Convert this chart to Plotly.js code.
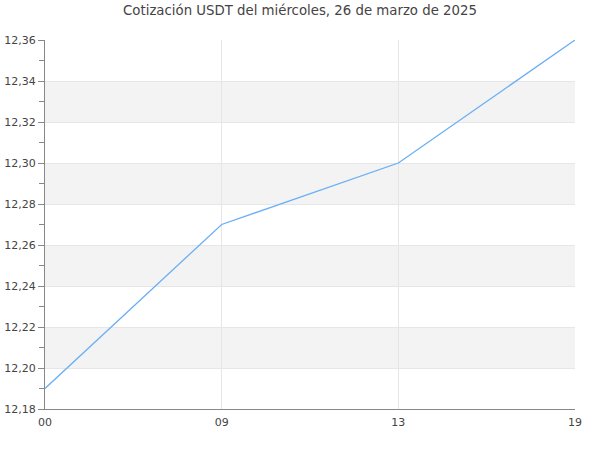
<!DOCTYPE html>
<html><head><meta charset="utf-8">
<script src="https://cdn.plot.ly/plotly-3.0.1.min.js"></script>
<style>html,body{margin:0;padding:0;background:#fff}#c{width:600px;height:450px}</style>
</head><body><div id="c"></div>
<script>
const hours = ["00", "09", "13", "19"];
const prices = [12.19, 12.27, 12.30, 12.36];
const yTicks = [12.18, 12.20, 12.22, 12.24, 12.26, 12.28, 12.30, 12.32, 12.34, 12.36];
const titleText = "Cotización USDT del miércoles, 26 de marzo de 2025";

const bands = [];
for (let i = 1; i + 1 < yTicks.length; i += 2) {
  bands.push({type:'rect', xref:'paper', yref:'y', x0:0, x1:1, y0:yTicks[i], y1:yTicks[i+1],
    fillcolor:'#f3f3f3', line:{width:0}, layer:'below'});
}

Plotly.newPlot('c', [{
  x: hours, y: prices, type:'scatter', mode:'lines',
  line:{color:'#6aaff5', width:1.3}, hoverinfo:'none'
}], {
  width:600, height:450,
  separators: ',.',
  font:{family:'DejaVu Sans, sans-serif', size:11, color:'#444'},
  title:{text:titleText, x:0.5, xanchor:'center', y:0.976, yanchor:'middle', font:{size:13.3, color:'#444'}},
  margin:{l:45, r:25, t:40, b:41},
  paper_bgcolor:'#fff', plot_bgcolor:'#fff',
  showlegend:false,
  shapes: bands,
  xaxis:{type:'category', range:[0, hours.length-1], showgrid:true, gridcolor:'#e6e6e6', gridwidth:1,
    showline:true, linecolor:'#888', linewidth:1, ticks:'', zeroline:false, ticklabelstandoff:3,
    tickfont:{size:11, color:'#444'}, fixedrange:true},
  yaxis:{range:[yTicks[0], yTicks[yTicks.length-1]], tickvals:yTicks, tickformat:'.2f',
    showgrid:true, gridcolor:'#e6e6e6', gridwidth:1, showline:true, linecolor:'#888', linewidth:1,
    ticks:'outside', ticklen:6, tickcolor:'#888', zeroline:false,
    minor:{ticks:'outside', ticklen:5, tickcolor:'#888', dtick:0.01, showgrid:false},
    tickfont:{size:11, color:'#444'}, fixedrange:true}
}, {staticPlot:true});
</script></body></html>
